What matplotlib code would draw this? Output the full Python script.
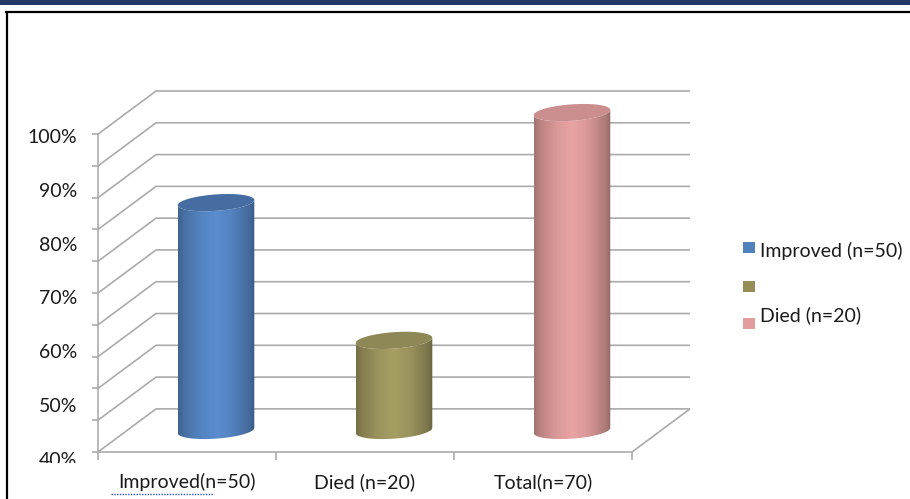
import numpy as np
import matplotlib
matplotlib.use("Agg")
import matplotlib.pyplot as plt
from matplotlib.patches import Polygon, Rectangle
from matplotlib.lines import Line2D
from matplotlib import transforms as mtrans
from matplotlib.colors import to_rgb

# ---- data -------------------------------------------------------------
categories = ["Improved(n=50)", "Died (n=20)", "Total(n=70)"]
values = [83, 57, 100]                       # percent
bar_colors = ["#5A8CCE", "#A59E64", "#E9A3A3"]
top_shade = [0.78, 0.86, 0.87]
legend_labels = ["Improved (n=50)", "", "Died (n=20)"]
legend_colors = ["#4F81BD", "#958E57", "#E39D9D"]
tick_labels = ["40%", "50%", "60%", "70%", "80%", "90%", "100%"]
tick_values = [40, 50, 60, 70, 80, 90, 100]
grid_values = np.linspace(40, 100, 11)

FONT = "Lato"
FS = 14

W, H = 910, 499
fig = plt.figure(figsize=(W / 100, H / 100), dpi=100)
fig.patch.set_facecolor("white")

# plot box: front-left-bottom corner to back-right-top corner (pixels)
x0_px, x1_px = 98, 690
y_top_px, y_bot_px = 91, 452
ax = fig.add_axes([x0_px / W, 1 - y_bot_px / H,
                   (x1_px - x0_px) / W, (y_bot_px - y_top_px) / H])
depth_x = 0.326      # oblique depth in category units
depth_y = 8.14       # oblique depth in percent units
ymin, ymax = 40, 100
ax.set_xlim(-0.5, 2.5 + depth_x)
ax.set_ylim(ymin, ymax + depth_y)
ax.axis("off")

px_x = (x1_px - x0_px) / (3 + depth_x)
px_y = (y_bot_px - y_top_px) / (ymax - ymin + depth_y)

grid_kw = dict(color="#ABABAB", lw=1.2, solid_capstyle="butt", zorder=1,
               clip_on=False)

# back wall gridlines and side-wall diagonals
for v in grid_values:
    ax.plot([-0.5, -0.5 + depth_x, 2.5 + depth_x],
            [v, v + depth_y, v + depth_y], **grid_kw)
    # tick marks on the value axis
    ax.plot([-0.5 - 6 / px_x, -0.5], [v, v], **grid_kw)

# value axis line
ax.plot([-0.5, -0.5], [ymin, ymax], **grid_kw)
# floor: front edge and right edge
ax.plot([-0.5, 2.5, 2.5 + depth_x], [ymin, ymin, ymin + depth_y], **grid_kw)
# category tick marks
for xb in [-0.5, 0.5, 1.5, 2.5]:
    ax.plot([xb, xb], [ymin, ymin - 8 / px_y], **grid_kw)

# ---- cylinders --------------------------------------------------------
rx = 0.205
dfrac = 0.2
a = dfrac * depth_x
b = dfrac * depth_y
t0 = np.arctan2(a, rx)
ext = np.hypot(rx, a)

u_pts = [0.0, 0.08, 0.3, 0.5, 0.7, 0.92, 1.0]
f_pts = [0.70, 0.80, 0.94, 1.00, 0.93, 0.76, 0.64]


def ell(cx, cy, t):
    return cx + rx * np.cos(t) + a * np.sin(t), cy + b * np.sin(t)


for i, (val, col) in enumerate(zip(values, bar_colors)):
    cx = i + depth_x / 2
    cy_base = ymin + depth_y / 2
    cy_top = val + depth_y / 2
    tf = np.linspace(t0 + np.pi, t0 + 2 * np.pi, 120)
    bx, by = ell(cx, cy_base, tf)
    tx, ty = ell(cx, cy_top, tf[::-1])
    body = Polygon(np.column_stack([np.r_[bx, tx], np.r_[by, ty]]),
                   closed=True, facecolor="none", edgecolor="none", zorder=3)
    ax.add_patch(body)

    rgb = np.array(to_rgb(col))
    u = np.linspace(0, 1, 256)
    f = np.interp(u, u_pts, f_pts)
    img = np.clip(rgb[None, :] * f[:, None], 0, 1)[None, :, :]
    im = ax.imshow(img, extent=[cx - ext, cx + ext, cy_base - b - 1, cy_top + b + 1],
                   aspect="auto", interpolation="bilinear", zorder=3)
    im.set_clip_path(body)

    ta = np.linspace(0, 2 * np.pi, 200)
    ex, ey = ell(cx, cy_top, ta)
    ax.add_patch(Polygon(np.column_stack([ex, ey]), closed=True,
                         facecolor=np.clip(rgb * top_shade[i], 0, 1),
                         edgecolor="none", zorder=4))

ax.set_xlim(-0.5, 2.5 + depth_x)
ax.set_ylim(ymin, ymax + depth_y)

# ---- labels -----------------------------------------------------------
for i, name in enumerate(categories):
    tr = mtrans.offset_copy(ax.transData, fig=fig, x=0, y=-30, units="dots")
    ax.text(i, ymin, name, transform=tr, ha="center", va="center",
            fontsize=FS, family=FONT, color="#1A1A1A", clip_on=False)

clip_bbox = mtrans.TransformedBbox(
    mtrans.Bbox.from_extents(0, 1 - 463 / H, 1, 1), fig.transFigure)
for v, lab in zip(tick_values, tick_labels):
    dy = 8 - 0.069 * (v - ymin)
    tr = mtrans.offset_copy(ax.transData, fig=fig, x=-21, y=-dy, units="dots")
    t = ax.text(-0.5, v, lab, transform=tr, ha="right", va="center",
                fontsize=FS, family=FONT, color="#1A1A1A", clip_on=True)
    t.set_clip_box(clip_bbox)

# dotted underline beneath the first category label
fig.add_artist(Line2D([111 / W, 214 / W], [1 - 494 / H, 1 - 494 / H],
                      color="#2E4FD8", lw=1.0, linestyle=(0, (1, 1))))

# ---- legend -----------------------------------------------------------
sq_tops = [242, 281, 318]
text_y = [251, None, 315]
for lab, col, top, ty in zip(legend_labels, legend_colors, sq_tops, text_y):
    fig.add_artist(Rectangle((743 / W, 1 - (top + 11) / H), 12 / W, 11 / H,
                             transform=fig.transFigure, facecolor=col,
                             edgecolor="none"))
    if lab:
        fig.text(760 / W, 1 - ty / H, lab, ha="left", va="center",
                 fontsize=FS, family=FONT, color="#1A1A1A")

# ---- frame ------------------------------------------------------------
fig.add_artist(Rectangle((0, 1 - 5 / H), 1, 5 / H, transform=fig.transFigure,
                         facecolor="#1F3864", edgecolor="none"))
fig.add_artist(Line2D([5 / W, 1], [1 - 12 / H, 1 - 12 / H], color="black",
                      lw=1.6, solid_capstyle="butt"))
fig.add_artist(Line2D([7 / W, 7 / W], [0, 1 - 11 / H], color="black",
                      lw=1.6, solid_capstyle="butt"))

fig.savefig("out.png", dpi=100, facecolor="white")
